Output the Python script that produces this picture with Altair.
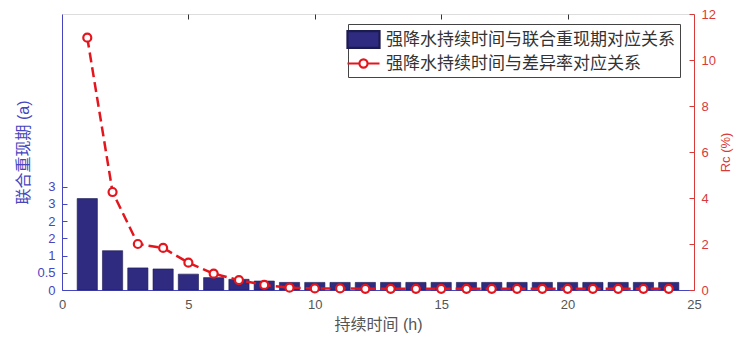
import altair as alt
import pandas as pd

# ---------------- data ----------------
hours = list(range(1, 25))
joint_return_period = [2.65, 1.14, 0.64, 0.61, 0.46, 0.36, 0.31, 0.26,
                       0.22, 0.22, 0.22, 0.22, 0.22, 0.22, 0.22, 0.22,
                       0.22, 0.22, 0.22, 0.22, 0.22, 0.22, 0.22, 0.22]
rc_percent = [10.97, 4.26, 2.0, 1.83, 1.19, 0.71, 0.43, 0.22,
              0.1, 0.07, 0.07, 0.05, 0.05, 0.05, 0.05, 0.05,
              0.05, 0.05, 0.05, 0.05, 0.05, 0.05, 0.05, 0.05]
series_names = ["强降水持续时间与联合重现期对应关系", "强降水持续时间与差异率对应关系"]
x_ticks = [0, 5, 10, 15, 20, 25]
left_ticks = [0, 0.5, 1, 1.5, 2, 2.5, 3]
right_ticks = [0, 2, 4, 6, 8, 10, 12]

# ---------------- style ----------------
NAVY = "#2e2b80"
NAVY_EDGE = "#1c1b50"
RED = "#e3161e"
BLUE_AX = "#4646c0"
RED_AX = "#d83a3a"
GREY = "#555555"
FONT = "Liberation Sans, Noto Sans CJK SC, sans-serif"
CJK = "Noto Sans CJK SC"

RECT_PATH = "M-1.78,-0.92H1.78V0.92H-1.78Z"
LINE_PATH = ("M-1.78,0H-0.45M0.45,0H1.78M0.45,0A0.45,0.45,0,1,1,-0.45,0"
             "A0.45,0.45,0,1,1,0.45,0")

df = pd.DataFrame({"hour": hours, "rp": joint_return_period, "rc": rc_percent})

x_scale = alt.Scale(domain=[0, 25], nice=False, zero=False)
left_scale = alt.Scale(domain=[0, 8], nice=False)
right_scale = alt.Scale(domain=[0, 12], nice=False)

bars_base = alt.Chart(df).transform_calculate(
    x0="datum.hour - 0.4", x1="datum.hour + 0.4", y0="0",
    series=f"'{series_names[0]}'"
)
line_base = alt.Chart(df).transform_calculate(series=f"'{series_names[1]}'")


def leg():
    return alt.Legend(
        title=None, orient="none", legendX=286, legendY=10,
        padding=5, strokeColor="#444444", fillColor="white",
        symbolSize=324, labelOffset=12, rowPadding=0, labelLimit=500,
        labelFont=CJK, labelFontSize=17, labelColor="#333333",
        symbolStrokeWidth=2.2, symbolOpacity=1,
    )


def axis_common(**kw):
    base = dict(labelFont=FONT, titleFont=FONT, titleFontWeight="normal", grid=False)
    base.update(kw)
    return alt.Axis(**base)


bars = bars_base.mark_bar(strokeWidth=0.6, stroke=NAVY_EDGE).encode(
    x=alt.X("x0:Q", scale=x_scale,
            axis=axis_common(values=x_ticks, title="持续时间 (h)", tickSize=0,
                             labelPadding=8, domainColor=BLUE_AX, labelColor=GREY,
                             titleColor=GREY, labelFontSize=13, titleFontSize=16,
                             titlePadding=5, labelFlush=False, format="~g")),
    x2="x1:Q",
    y=alt.Y("rp:Q", scale=left_scale,
            axis=axis_common(values=left_ticks, title="联合重现期 (a)", tickSize=0,
                             labelPadding=7, domainColor=BLUE_AX, labelColor=BLUE_AX,
                             titleColor=BLUE_AX, labelFontSize=13, titleFontSize=16,
                             titlePadding=5, format="~g")),
    y2="y0:Q",
    fill=alt.Fill("series:N",
                  scale=alt.Scale(domain=series_names, range=[NAVY, "white"]),
                  legend=leg()),
)

left_ticks_layer = bars_base.mark_bar(opacity=0).encode(
    x=alt.X("x0:Q", scale=x_scale, axis=None),
    x2="x1:Q",
    y=alt.Y("rp:Q", scale=left_scale,
            axis=axis_common(orient="left", values=left_ticks, title=None, labels=False,
                             domain=False, tickSize=5, offset=-5, tickColor=BLUE_AX)),
    y2="y0:Q",
)

line = line_base.mark_line(color=RED, strokeDash=[10, 5], strokeWidth=2.5).encode(
    x=alt.X("hour:Q", scale=x_scale,
            axis=axis_common(orient="top", values=[5, 10, 15, 20], title=None,
                             labels=False, domain=False, tickSize=5, offset=-5,
                             tickColor="#333333")),
    y=alt.Y("rc:Q", scale=right_scale,
            axis=axis_common(orient="right", values=right_ticks, title="Rc (%)",
                             tickSize=0, labelPadding=7, domainColor=RED_AX,
                             labelColor=RED_AX, titleColor=RED_AX, labelFontSize=13,
                             titleFontSize=13, titleAngle=270, titleBaseline="top",
                             titlePadding=4, format="~g")),
)

points = line_base.mark_point(shape="circle", size=64, filled=False, fill="white",
                              fillOpacity=1, strokeWidth=2.2).encode(
    x=alt.X("hour:Q", scale=x_scale, axis=None),
    y=alt.Y("rc:Q", scale=right_scale,
            axis=axis_common(orient="right", values=right_ticks, title=None, labels=False,
                             domain=False, tickSize=5, offset=-5, tickColor=RED_AX)),
    stroke=alt.Stroke("series:N",
                      scale=alt.Scale(domain=series_names, range=[NAVY_EDGE, RED]),
                      legend=leg()),
)

# empty helper layer: only supplies per-entry legend symbol shapes
legend_shapes = line_base.transform_filter("false").mark_point().encode(
    x=alt.X("hour:Q", scale=x_scale, axis=None),
    y=alt.Y("rc:Q", scale=right_scale, axis=None),
    shape=alt.Shape("series:N",
                    scale=alt.Scale(domain=series_names, range=[RECT_PATH, LINE_PATH]),
                    legend=leg()),
)

chart = alt.layer(bars, left_ticks_layer, line, points, legend_shapes).resolve_scale(
    y="independent"
).resolve_axis(
    x="independent", y="independent"
).properties(
    width=632, height=276,
    padding={"left": 54, "top": 6, "right": 40, "bottom": 47},
    autosize=alt.AutoSizeParams(type="none"),
).configure_view(
    stroke="#333333", strokeWidth=1
).configure(background="white")

chart.save("out.html", embed_options={"renderer": "svg", "actions": False})
